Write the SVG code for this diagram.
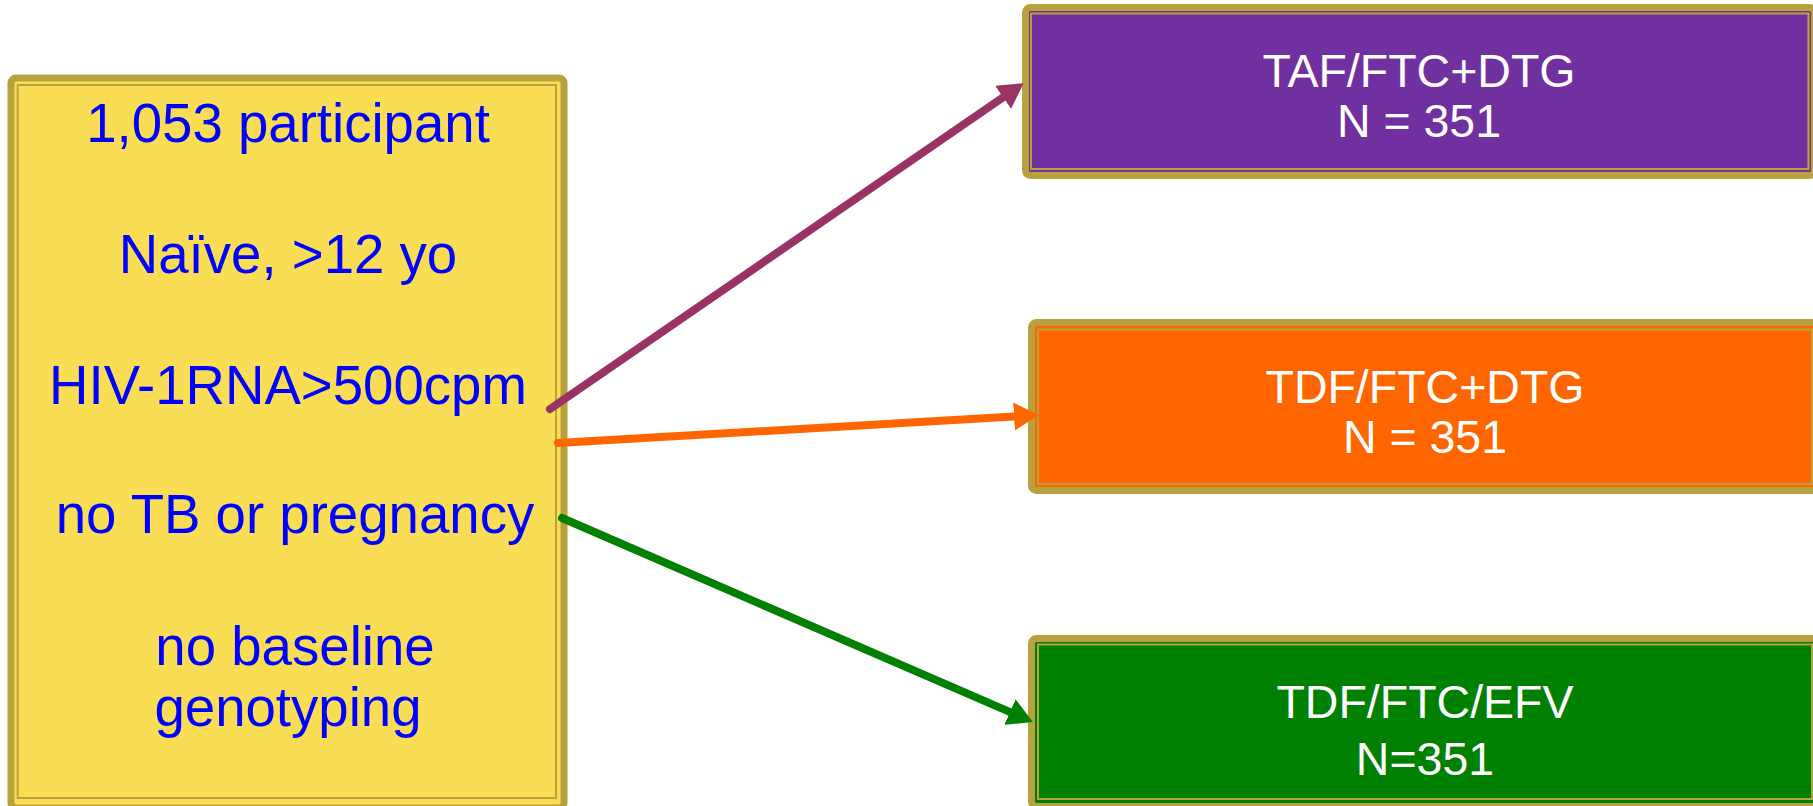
<svg xmlns="http://www.w3.org/2000/svg" width="1813" height="806" viewBox="0 0 1813 806">
<style>
.outer{stroke:#B9A23E;stroke-width:7}
.inner{fill:none;stroke:#B9A23E;stroke-width:2}
.lt{font-family:"Liberation Sans",Arial,sans-serif;font-size:54.6px;fill:#0000FF;text-anchor:middle}
.rt{font-family:"Liberation Sans",Arial,sans-serif;font-size:46.5px;fill:#FFFFFF;text-anchor:middle}
.conn{fill:none;stroke-width:8;stroke-linecap:round}
</style>
<defs>
<marker id="ahP" markerUnits="userSpaceOnUse" markerWidth="25" markerHeight="28" refX="12" refY="14" orient="auto"><path d="M0,0 L25,14 L0,28 z" fill="#993366"/></marker>
<marker id="ahO" markerUnits="userSpaceOnUse" markerWidth="25" markerHeight="28" refX="12" refY="14" orient="auto"><path d="M0,0 L25,14 L0,28 z" fill="#FF6600"/></marker>
<marker id="ahG" markerUnits="userSpaceOnUse" markerWidth="25" markerHeight="28" refX="12" refY="14" orient="auto"><path d="M0,0 L25,14 L0,28 z" fill="#008000"/></marker>
</defs>
<rect width="1813" height="806" fill="#FFFFFF"/>
<g id="node-participants">
<rect class="outer" x="11" y="78" width="553" height="730" rx="5" fill="#F9DE55"/>
<rect class="inner" x="17.7" y="85" width="538.3" height="713"/>
<text class="lt" x="288" y="142">1,053 participant</text>
<text class="lt" x="288" y="273">Naïve, &gt;12 yo</text>
<text class="lt" x="288" y="404">HIV-1RNA&gt;500cpm</text>
<text class="lt" x="295" y="533">no TB or pregnancy</text>
<text class="lt" x="295" y="665">no baseline</text>
<text class="lt" x="288" y="726">genotyping</text>
</g>
<g id="node-taf">
<rect class="outer" x="1025.5" y="7.5" width="789" height="168" rx="5" fill="#7030A0"/>
<rect class="inner" x="1031" y="13.5" width="777.5" height="155.5"/>
<text class="rt" x="1419" y="87">TAF/FTC+DTG</text>
<text class="rt" x="1419" y="137">N = 351</text>
</g>
<g id="node-tdf-dtg">
<rect class="outer" x="1031.5" y="322.5" width="787" height="168" rx="5" fill="#FF6600"/>
<rect class="inner" x="1038" y="329.5" width="774" height="154.5"/>
<text class="rt" x="1425" y="403">TDF/FTC+DTG</text>
<text class="rt" x="1425" y="453">N = 351</text>
</g>
<g id="node-tdf-efv">
<rect class="outer" x="1031.5" y="638.5" width="787" height="168" rx="5" fill="#008000"/>
<rect class="inner" x="1038" y="644.5" width="774" height="154.5"/>
<text class="rt" x="1425" y="718">TDF/FTC/EFV</text>
<text class="rt" x="1425" y="775">N=351</text>
</g>
<g id="connectors">
<line class="conn" x1="550" y1="409" x2="1013" y2="90.5" stroke="#993366" marker-end="url(#ahP)"/>
<line class="conn" x1="558" y1="443" x2="1026" y2="415.8" stroke="#FF6600" marker-end="url(#ahO)"/>
<line class="conn" x1="562" y1="518" x2="1021" y2="716.8" stroke="#008000" marker-end="url(#ahG)"/>
</g>
</svg>
